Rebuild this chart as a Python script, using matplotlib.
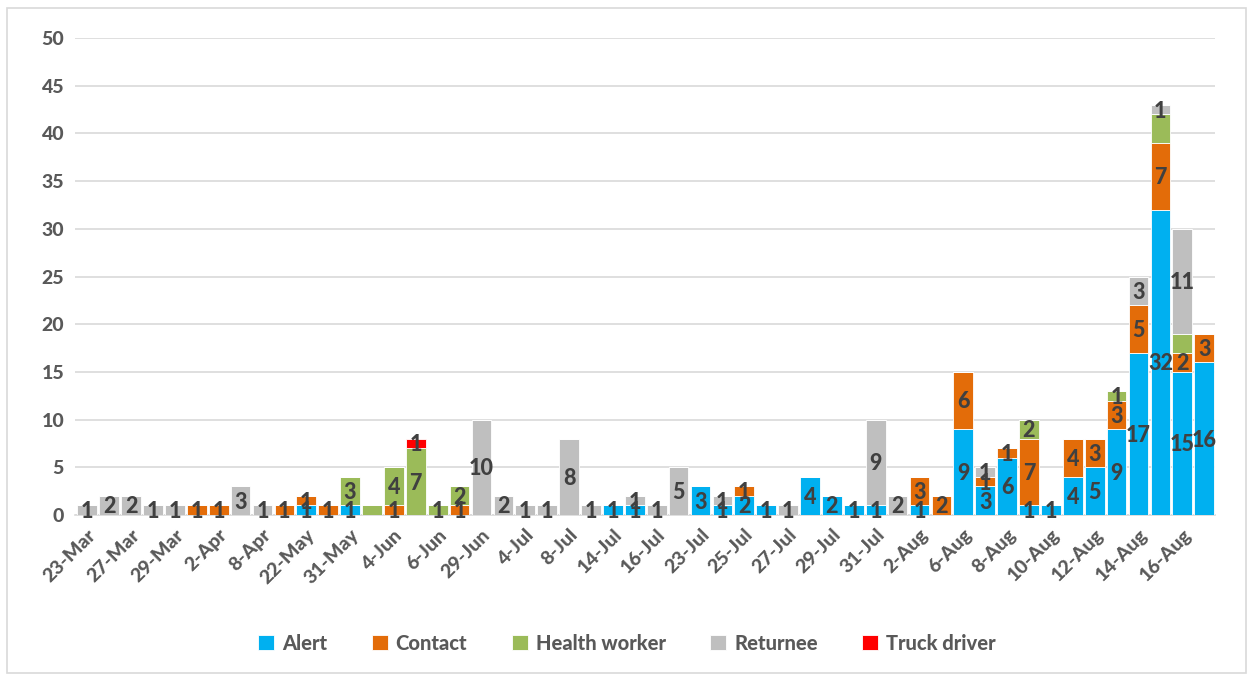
import numpy as np
import matplotlib.pyplot as plt
from matplotlib.patches import Rectangle

plt.rcParams['font.family'] = ['Lato', 'DejaVu Sans']

datas = ['23-Mar', '25-Mar', '27-Mar', '28-Mar', '29-Mar', '1-Apr', '2-Apr', '5-Apr',
         '8-Apr', '20-May', '22-May', '30-May', '31-May', '2-Jun', '4-Jun', '5-Jun',
         '6-Jun', '28-Jun', '29-Jun', '2-Jul', '4-Jul', '7-Jul', '8-Jul', '12-Jul',
         '14-Jul', '15-Jul', '16-Jul', '22-Jul', '23-Jul', '24-Jul', '25-Jul', '26-Jul',
         '27-Jul', '28-Jul', '29-Jul', '30-Jul', '31-Jul', '1-Aug', '2-Aug', '5-Aug',
         '6-Aug', '7-Aug', '8-Aug', '9-Aug', '10-Aug', '11-Aug', '12-Aug', '13-Aug',
         '14-Aug', '15-Aug', '16-Aug', '17-Aug']

alert = [0, 0, 0, 0, 0, 0, 0, 0, 0, 0, 1, 0, 1, 0, 0, 0, 0, 0, 0, 0, 0, 0, 0, 0,
         1, 1, 0, 0, 3, 1, 2, 1, 0, 4, 2, 1, 1, 0, 1, 0, 9, 3, 6, 1, 1, 4, 5, 9,
         17, 32, 15, 16]
contact = [0, 0, 0, 0, 0, 1, 1, 0, 0, 1, 1, 1, 0, 0, 1, 0, 0, 1, 0, 0, 0, 0, 0, 0,
           0, 0, 0, 0, 0, 0, 1, 0, 0, 0, 0, 0, 0, 0, 3, 2, 6, 1, 1, 7, 0, 4, 3, 3,
           5, 7, 2, 3]
health_worker = [0, 0, 0, 0, 0, 0, 0, 0, 0, 0, 0, 0, 3, 1, 4, 7, 1, 2, 0, 0, 0, 0, 0, 0,
                 0, 0, 0, 0, 0, 0, 0, 0, 0, 0, 0, 0, 0, 0, 0, 0, 0, 0, 0, 2, 0, 0, 0, 1,
                 0, 3, 2, 0]
returnee = [1, 2, 2, 1, 1, 0, 0, 3, 1, 0, 0, 0, 0, 0, 0, 0, 0, 0, 10, 2, 1, 1, 8, 1,
            0, 1, 1, 5, 0, 1, 0, 0, 1, 0, 0, 0, 9, 2, 0, 0, 0, 1, 0, 0, 0, 0, 0, 0,
            3, 1, 11, 0]
truck_driver = [0, 0, 0, 0, 0, 0, 0, 0, 0, 0, 0, 0, 0, 0, 0, 1, 0, 0, 0, 0, 0, 0, 0, 0,
                0, 0, 0, 0, 0, 0, 0, 0, 0, 0, 0, 0, 0, 0, 0, 0, 0, 0, 0, 0, 0, 0, 0, 0,
                0, 0, 0, 0]

series = [('Alert', alert, '#00B0F0'),
          ('Contact', contact, '#E36C09'),
          ('Health worker', health_worker, '#9BBB59'),
          ('Returnee', returnee, '#BFBFBF'),
          ('Truck driver', truck_driver, '#FF0000')]

# rótulos que o gráfico original não mostra
rotulos_ocultos = {(13, 'Health worker'), (49, 'Health worker'), (50, 'Health worker')}

cor_texto = '#595959'

fig = plt.figure(figsize=(12.54, 6.79), dpi=100)
ax = fig.add_axes([0.060, 0.2415, 0.909, 0.7025])

x = np.arange(len(datas))
base = np.zeros(len(datas))
for nome, valores, cor in series:
    v = np.array(valores, dtype=float)
    ax.bar(x, v, bottom=base, width=0.9, color=cor, edgecolor='white', linewidth=0.6,
           label=nome, zorder=3)
    for i, val in enumerate(v):
        if val > 0 and (i, nome) not in rotulos_ocultos:
            ax.text(i, base[i] + val / 2 - 0.15, f'{int(val)}', ha='center', va='center',
                    fontsize=15.5, fontweight='black', color='#404040', zorder=4)
    base += v

ax.set_xlim(-0.55, len(datas) - 0.5)
ax.set_ylim(0, 50)
ax.set_yticks(np.arange(0, 51, 5))
ax.set_xticks(x[::2])
ax.set_xticklabels(datas[::2], rotation=45, ha='right', rotation_mode='anchor')
ax.tick_params(axis='both', length=0, labelsize=14, colors=cor_texto, pad=8)
for lbl in ax.get_xticklabels() + ax.get_yticklabels():
    lbl.set_fontweight('black')

ax.grid(axis='y', color='#D9D9D9', linewidth=1.2, zorder=0)
ax.set_axisbelow(True)
for lado in ['top', 'right', 'left']:
    ax.spines[lado].set_visible(False)
ax.spines['bottom'].set_color('#D9D9D9')
ax.spines['bottom'].set_linewidth(1.2)

leg = fig.legend(loc='center', bbox_to_anchor=(0.5, 0.053), ncol=5, frameon=False,
                 handlelength=0.8, handleheight=0.8, handletextpad=0.4, columnspacing=2.2,
                 prop={'size': 14.5, 'weight': 'black'})
for t in leg.get_texts():
    t.set_color(cor_texto)

fig.patches.append(Rectangle((0.0056, 0.009), 0.988, 0.979, transform=fig.transFigure,
                             fill=False, edgecolor='#D9D9D9', linewidth=1.2))

fig.savefig('out.png', dpi=100)
